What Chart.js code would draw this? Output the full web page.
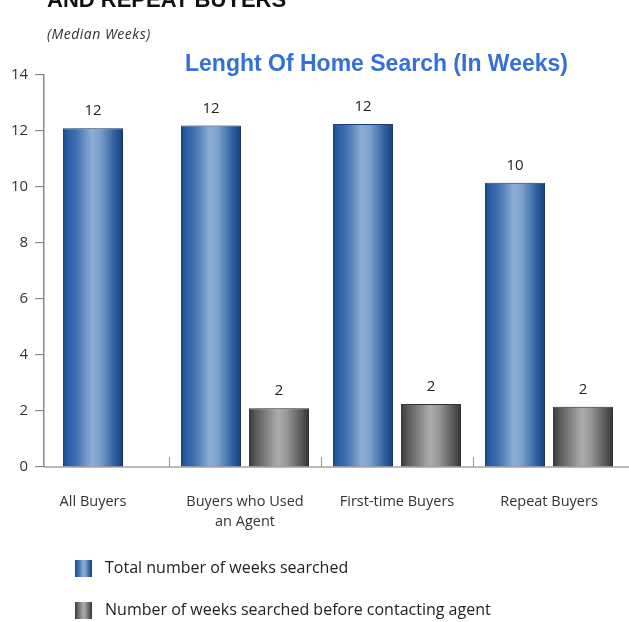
<!DOCTYPE html>
<html>
<head>
<meta charset="utf-8">
<script src="https://cdn.jsdelivr.net/npm/chart.js@4.4.1/dist/chart.umd.min.js"></script>
<style>
    html, body { margin: 0; padding: 0; background: #fff; }
    #wrap { position: relative; width: 629px; height: 622px; overflow: hidden; }
    #chart { position: absolute; left: 0; top: 0; }
    .head { position: absolute; white-space: nowrap; line-height: 1; }
    #cut { left: 47px; top: -13px; font: bold 22px "Liberation Sans", Arial, sans-serif; color: #111; }
    #sub { left: 47px; top: 24px; font: italic 14px "Open Sans", sans-serif; letter-spacing: 0.5px; color: #333; }
    #title { left: 185px; top: 50px; font: bold 23px "Liberation Sans", Arial, sans-serif; color: #3371d9; }
</style>
</head>
<body>
<div id="wrap">
    <canvas id="chart" width="629" height="622"></canvas>
    <div class="head" id="cut">AND REPEAT BUYERS</div>
    <div class="head" id="sub">(Median Weeks)</div>
    <div class="head" id="title">Lenght Of Home Search (In Weeks)</div>
</div>
<script>
    'use strict';

    // data
    const categories = ['All Buyers', ['Buyers who Used', 'an Agent'], 'First-time Buyers', 'Repeat Buyers'];
    const totalWeeks = [12.1, 12.2, 12.25, 10.15];
    const weeksBeforeAgent = [null, 2.1, 2.25, 2.15];
    const seriesNames = ['Total number of weeks searched', 'Number of weeks searched before contacting agent'];
    const yTicks = [0, 2, 4, 6, 8, 10, 12, 14];

    // the y axis sits a little inside the first group, like the original
    const yAxisAt = -0.322;

    // cylinder shading, left to right
    const blueStops = [[0, '#1c4a88'], [0.1, '#2d62a8'], [0.2, '#3a6cae'], [0.48, '#8dadd3'], [0.62, '#7b9fca'], [0.86, '#2f5f9f'], [1, '#173f78']];
    const grayStops = [[0, '#3a3a3a'], [0.12, '#5c5c5c'], [0.48, '#ababab'], [0.62, '#9a9a9a'], [0.88, '#565656'], [1, '#343434']];

    const font = '"Open Sans", sans-serif';

    function swatch(stops) {
        const c = document.createElement('canvas');
        c.width = 17;
        c.height = 17;
        const g2 = c.getContext('2d');
        const g = g2.createLinearGradient(0, 0, 17, 0);
        stops.forEach(s => g.addColorStop(s[0], s[1]));
        g2.fillStyle = g;
        g2.fillRect(0, 0, 17, 17);
        return c;
    }

    // gradient + soft shadow on each bar
    const barLook = {
        id: 'barLook',
        beforeDatasetDraw(chart, args) {
            const ctx = chart.ctx;
            const stops = args.index === 0 ? blueStops : grayStops;
            args.meta.data.forEach(el => {
                if (!isFinite(el.x) || !isFinite(el.width)) return;
                const g = ctx.createLinearGradient(el.x - el.width / 2, 0, el.x + el.width / 2, 0);
                stops.forEach(s => g.addColorStop(s[0], s[1]));
                el.options.backgroundColor = g;
            });
            ctx.save();
            ctx.shadowColor = 'rgba(0,0,0,0.38)';
            ctx.shadowBlur = 10;
            ctx.shadowOffsetX = 6;
            ctx.shadowOffsetY = 3;
        },
        afterDatasetDraw(chart) {
            chart.ctx.restore();
        }
    };

    const valueLabels = {
        id: 'valueLabels',
        afterDatasetsDraw(chart) {
            const ctx = chart.ctx;
            ctx.save();
            ctx.font = '15px ' + font;
            ctx.fillStyle = '#222';
            ctx.textAlign = 'center';
            ctx.textBaseline = 'middle';
            chart.data.datasets.forEach((ds, i) => {
                chart.getDatasetMeta(i).data.forEach((el, j) => {
                    const v = ds.data[j];
                    if (v == null) return;
                    ctx.fillText(Math.round(v), el.x, el.y - 17);
                });
            });
            ctx.restore();
        }
    };

    // x axis line from the y axis to the page edge, marks between groups,
    // and the y tick labels (a free-standing y axis puts them on the line)
    const axisBits = {
        id: 'axisBits',
        afterLayout(chart) {
            chart.legend.left = chart.scales.x.getPixelForValue(yAxisAt);
        },
        beforeDatasetsDraw(chart) {
            const x = chart.scales.x;
            const y = chart.scales.y;
            const ctx = chart.ctx;
            const area = chart.chartArea;
            const start = x.getPixelForValue(yAxisAt);
            ctx.save();
            ctx.strokeStyle = '#999';
            ctx.lineWidth = 1;
            for (let i = 1; i < categories.length; i++) {
                const px = Math.round((x.getPixelForTick(i - 1) + x.getPixelForTick(i)) / 2) + 0.5;
                ctx.beginPath();
                ctx.moveTo(px, area.bottom - 10);
                ctx.lineTo(px, area.bottom);
                ctx.stroke();
            }
            ctx.strokeStyle = '#777';
            ctx.lineWidth = 1.2;
            ctx.beginPath();
            ctx.moveTo(start, area.bottom);
            ctx.lineTo(chart.width, area.bottom);
            ctx.stroke();

            ctx.font = '15px ' + font;
            ctx.fillStyle = '#333';
            ctx.textAlign = 'right';
            ctx.textBaseline = 'middle';
            y.ticks.forEach(t => {
                ctx.fillText(String(t.value), start - 16, y.getPixelForValue(t.value));
            });
            ctx.restore();
        }
    };

    new Chart(document.getElementById('chart'), {
        type: 'bar',
        data: {
            labels: categories,
            datasets: [
                {
                    label: seriesNames[0],
                    data: totalWeeks,
                    backgroundColor: () => '#2f5f9f',
                    borderColor: '#1d4680',
                    borderWidth: 1,
                    pointStyle: swatch(blueStops)
                },
                {
                    label: seriesNames[1],
                    data: weeksBeforeAgent,
                    backgroundColor: () => '#7a7a7a',
                    borderColor: '#3a3a3a',
                    borderWidth: 1,
                    pointStyle: swatch(grayStops)
                }
            ]
        },
        options: {
            responsive: false,
            animation: false,
            layout: {
                padding: { top: 75, right: 4, bottom: -6, left: 17 }
            },
            datasets: {
                bar: {
                    skipNull: true,
                    categoryPercentage: 0.895,
                    barPercentage: 0.882,
                    maxBarThickness: 60,
                    clip: false
                }
            },
            plugins: {
                title: { display: false },
                tooltip: { enabled: false },
                legend: {
                    position: 'bottom',
                    align: 'start',
                    fullSize: false,
                    labels: {
                        usePointStyle: true,
                        pointStyleWidth: 27,
                        padding: 26,
                        color: '#222',
                        font: { family: font, size: 16 }
                    }
                }
            },
            scales: {
                x: {
                    grid: { display: false, drawTicks: false },
                    border: { display: false },
                    ticks: {
                        color: '#333',
                        padding: 24.5,
                        maxRotation: 0,
                        autoSkip: false,
                        font: { family: font, size: 14.5, lineHeight: 1.4 }
                    },
                    afterFit: scale => { scale.height = 67; }
                },
                y: {
                    position: { x: yAxisAt },
                    min: yTicks[0],
                    max: yTicks[yTicks.length - 1],
                    grid: {
                        display: true,
                        drawOnChartArea: false,
                        drawTicks: true,
                        tickLength: 8,
                        color: '#888',
                        lineWidth: 1.2
                    },
                    border: { color: '#888', width: 1.5 },
                    ticks: {
                        display: false,
                        stepSize: yTicks[1] - yTicks[0]
                    }
                }
            }
        },
        plugins: [barLook, valueLabels, axisBits]
    });
</script>
</body>
</html>
